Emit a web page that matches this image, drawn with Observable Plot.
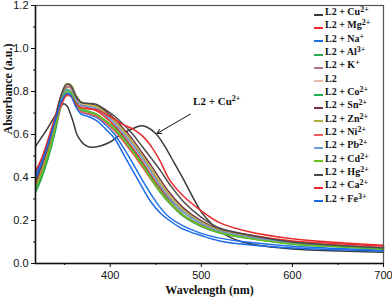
<!DOCTYPE html>
<html>
<head>
<meta charset="utf-8">
<script src="https://cdn.jsdelivr.net/npm/d3@7"></script>
<script src="https://cdn.jsdelivr.net/npm/@observablehq/plot@0.6"></script>
<style>
  body { margin: 0; background: white; }
  #wrap { position: relative; width: 392px; height: 301px; }
  #legend { position: absolute; left: 314px; top: 5px; font-family: "Liberation Serif", "Times New Roman", serif; font-weight: bold; font-size: 10px; color: #111; }
  #legend .row { height: 13.35px; line-height: 13.35px; white-space: nowrap; display: flex; align-items: center; }
  #legend .sw { display: inline-block; width: 9px; height: 2px; margin-right: 2px; margin-top: 6px; }
  #legend sup { font-size: 8px; vertical-align: 3px; line-height: 0; }
</style>
</head>
<body>
<div id="wrap"><div id="legend"></div></div>
<script>
// ---- data ----
const wl = [318, 325, 332, 340, 346, 352, 357, 362, 368, 375, 385, 395, 405, 415, 425, 435, 445, 455, 465, 480, 500, 520, 550, 600, 650, 700];

const cuWl  = [318, 330, 340, 349, 353, 356, 360, 363, 367, 371, 378, 390, 400, 410, 422, 433, 440, 450, 460, 470, 480, 488, 500, 510, 517, 530, 545, 570, 600, 650, 700];
const cuAbs = [0.545, 0.62, 0.69, 0.743, 0.73, 0.70, 0.65, 0.605, 0.575, 0.555, 0.541, 0.548, 0.565, 0.595, 0.622, 0.64, 0.635, 0.605, 0.545, 0.47, 0.395, 0.33, 0.24, 0.19, 0.16, 0.125, 0.10, 0.08, 0.068, 0.058, 0.052];

const mgAbs = [0.42, 0.49, 0.58, 0.69, 0.78, 0.82, 0.815, 0.77, 0.735, 0.725, 0.71, 0.68, 0.64, 0.59, 0.535, 0.475, 0.41, 0.35, 0.30, 0.24, 0.19, 0.16, 0.135, 0.105, 0.092, 0.08];
const naAbs = [0.41, 0.48, 0.56, 0.67, 0.755, 0.80, 0.79, 0.74, 0.705, 0.695, 0.68, 0.645, 0.60, 0.535, 0.465, 0.39, 0.32, 0.26, 0.215, 0.175, 0.14, 0.118, 0.10, 0.08, 0.07, 0.062];
const alAbs = [0.33, 0.40, 0.49, 0.62, 0.73, 0.80, 0.795, 0.75, 0.715, 0.705, 0.69, 0.66, 0.62, 0.57, 0.515, 0.455, 0.39, 0.33, 0.28, 0.22, 0.172, 0.142, 0.118, 0.09, 0.078, 0.068];
const kAbs  = [0.37, 0.44, 0.53, 0.66, 0.765, 0.82, 0.815, 0.77, 0.74, 0.733, 0.722, 0.693, 0.655, 0.607, 0.555, 0.497, 0.43, 0.368, 0.312, 0.245, 0.188, 0.152, 0.126, 0.096, 0.083, 0.072];
const l2Abs = [0.38, 0.45, 0.54, 0.67, 0.775, 0.83, 0.825, 0.78, 0.745, 0.738, 0.728, 0.70, 0.66, 0.612, 0.56, 0.50, 0.435, 0.372, 0.315, 0.248, 0.19, 0.155, 0.128, 0.097, 0.084, 0.073];
const coAbs = [0.34, 0.41, 0.50, 0.63, 0.74, 0.81, 0.80, 0.755, 0.72, 0.71, 0.695, 0.665, 0.63, 0.58, 0.525, 0.465, 0.40, 0.34, 0.29, 0.228, 0.178, 0.146, 0.12, 0.092, 0.08, 0.07];
const snAbs = [0.37, 0.45, 0.54, 0.67, 0.775, 0.835, 0.83, 0.785, 0.75, 0.743, 0.735, 0.708, 0.672, 0.625, 0.575, 0.515, 0.455, 0.39, 0.33, 0.26, 0.198, 0.158, 0.13, 0.098, 0.084, 0.072];
const znAbs = [0.36, 0.44, 0.53, 0.665, 0.775, 0.836, 0.83, 0.785, 0.748, 0.74, 0.73, 0.70, 0.663, 0.615, 0.563, 0.503, 0.44, 0.375, 0.318, 0.25, 0.192, 0.155, 0.128, 0.097, 0.083, 0.072];
const niAbs = [0.36, 0.43, 0.52, 0.64, 0.73, 0.78, 0.775, 0.735, 0.705, 0.698, 0.685, 0.655, 0.615, 0.565, 0.51, 0.45, 0.39, 0.335, 0.285, 0.225, 0.178, 0.148, 0.124, 0.097, 0.085, 0.075];
const pbAbs = [0.39, 0.46, 0.55, 0.67, 0.76, 0.805, 0.80, 0.76, 0.735, 0.73, 0.72, 0.69, 0.65, 0.60, 0.55, 0.49, 0.425, 0.36, 0.305, 0.24, 0.185, 0.15, 0.124, 0.095, 0.082, 0.071];
const cdAbs = [0.35, 0.42, 0.51, 0.64, 0.745, 0.80, 0.795, 0.75, 0.718, 0.708, 0.693, 0.663, 0.625, 0.575, 0.52, 0.46, 0.395, 0.335, 0.285, 0.225, 0.175, 0.144, 0.119, 0.091, 0.079, 0.069];
const hgAbs = [0.38, 0.46, 0.55, 0.68, 0.78, 0.833, 0.825, 0.78, 0.75, 0.745, 0.74, 0.715, 0.685, 0.645, 0.60, 0.545, 0.49, 0.433, 0.37, 0.29, 0.215, 0.165, 0.135, 0.10, 0.084, 0.072];
const caAbs = [0.43, 0.49, 0.57, 0.67, 0.74, 0.785, 0.78, 0.745, 0.725, 0.72, 0.715, 0.695, 0.67, 0.645, 0.625, 0.595, 0.545, 0.475, 0.39, 0.315, 0.245, 0.19, 0.15, 0.115, 0.098, 0.085];
const feAbs = [0.40, 0.47, 0.56, 0.67, 0.75, 0.79, 0.78, 0.73, 0.695, 0.685, 0.665, 0.625, 0.58, 0.505, 0.43, 0.355, 0.285, 0.235, 0.20, 0.16, 0.13, 0.105, 0.088, 0.072, 0.064, 0.058];

const ions   = ["Cu", "Mg", "Na", "Al", "K", "", "Co", "Sn", "Zn", "Ni", "Pb", "Cd", "Hg", "Ca", "Fe"];
const charges = ["2+", "2+", "+", "3+", "+", "", "2+", "2+", "2+", "2+", "2+", "2+", "2+", "2+", "3+"];
const colors = ["#3a3a3a", "#ee2a2a", "#1f6fe5", "#2aa84a", "#b07880", "#e2bca8", "#1fae50", "#7a3040", "#b0b040", "#f05a5a", "#6a9ad8", "#6ac020", "#4a4a4a", "#e82a2a", "#1a6ae8"];
const absList = [cuAbs, mgAbs, naAbs, alAbs, kAbs, l2Abs, coAbs, snAbs, znAbs, niAbs, pbAbs, cdAbs, hgAbs, caAbs, feAbs];

const yTicks = [0, 0.2, 0.4, 0.6, 0.8, 1.0, 1.2];
const yMinor = [0.1, 0.3, 0.5, 0.7, 0.9, 1.1];
const xTicks = [400, 500, 600, 700];
const xMinor = [350, 450, 550, 650];

const annText = [{x: 491, y: 0.752, label: "L2 + Cu"}];
const annArrow = [{x1: 488, y1: 0.695, x2: 451.5, y2: 0.605}];

// ---- build ----
const names = ions.map((ion, i) => ion ? `L2 + ${ion}${charges[i]}` : "L2");
const rows = [];
absList.forEach((vals, i) => {
  const xs = i === 0 ? cuWl : wl;
  xs.forEach((w, j) => rows.push({series: names[i], wl: w, abs: vals[j]}));
});

const chart = Plot.plot({
  width: 392, height: 301,
  marginLeft: 35, marginRight: 9, marginTop: 5, marginBottom: 38,
  x: {domain: [318, 700]},
  y: {domain: [0, 1.2]},
  color: {domain: names, range: colors},
  style: {fontFamily: "'Liberation Sans', Arial, sans-serif", fontSize: "11px", color: "#111", background: "white"},
  marks: [
    Plot.line(rows, {x: "wl", y: "abs", z: "series", stroke: "series", strokeWidth: 1.5, curve: "catmull-rom"}),
    Plot.frame({stroke: "#555", strokeWidth: 1.2}),
    Plot.ruleX([318], {stroke: "#111", strokeWidth: 1.5}),
    Plot.ruleY([0], {stroke: "#111", strokeWidth: 1.5}),
    Plot.axisY(yTicks, {tickSize: 4, tickPadding: 3, tickFormat: d => d.toFixed(1), label: null, stroke: "#111"}),
    Plot.axisY(yMinor, {tickSize: 2, tickFormat: () => "", label: null, stroke: "#111"}),
    Plot.axisX(xTicks, {tickSize: 4, tickPadding: 4, tickFormat: d => String(d), label: null, stroke: "#111"}),
    Plot.axisX(xMinor, {tickSize: 2, tickFormat: () => "", label: null, stroke: "#111"}),
    Plot.text(["Absorbance (a.u.)"], {frameAnchor: "left", text: d => d, rotate: -90, dx: -27, fontWeight: "bold", fontFamily: "'Liberation Serif', 'Times New Roman', serif", fontSize: 12, fill: "#111"}),
    Plot.text(["Wavelength (nm)"], {frameAnchor: "bottom", text: d => d, dy: 30, fontWeight: "bold", fontFamily: "'Liberation Serif', 'Times New Roman', serif", fontSize: 12, fill: "#111"}),
    Plot.arrow(annArrow, {x1: "x1", y1: "y1", x2: "x2", y2: "y2", stroke: "#111", strokeWidth: 1, headLength: 7}),
    Plot.text(annText, {x: "x", y: "y", text: "label", textAnchor: "start", fontWeight: "bold", fontFamily: "'Liberation Serif', 'Times New Roman', serif", fontSize: 11, fill: "#111", className: "cu-annot"})
  ]
});
document.getElementById("wrap").prepend(chart);

// superscript on annotation
chart.querySelectorAll(".cu-annot text").forEach(t => {
  const sup = document.createElementNS("http://www.w3.org/2000/svg", "tspan");
  sup.setAttribute("dy", "-4");
  sup.setAttribute("font-size", "8");
  sup.textContent = "2+";
  t.appendChild(sup);
});

// legend
const leg = document.getElementById("legend");
names.forEach((n, i) => {
  const row = document.createElement("div");
  row.className = "row";
  const sw = document.createElement("span");
  sw.className = "sw";
  sw.style.background = colors[i];
  row.appendChild(sw);
  const label = document.createElement("span");
  if (ions[i]) {
    label.innerHTML = `L2 + ${ions[i]}<sup>${charges[i]}</sup>`;
  } else {
    label.textContent = "L2";
  }
  row.appendChild(label);
  leg.appendChild(row);
});
</script>
</body>
</html>
